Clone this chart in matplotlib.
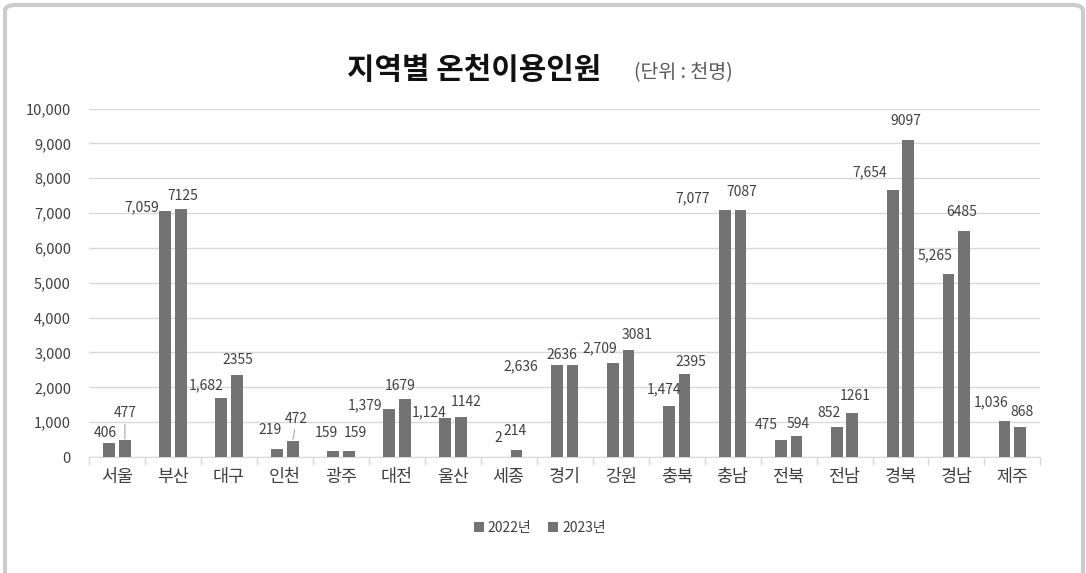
import numpy as np
import matplotlib.pyplot as plt
from matplotlib.patches import FancyBboxPatch

plt.rcParams['font.family'] = ['Noto Sans CJK KR', 'DejaVu Sans']

# data (단위: 천명)
regions = ['서울', '부산', '대구', '인천', '광주', '대전', '울산', '세종', '경기',
           '강원', '충북', '충남', '전북', '전남', '경북', '경남', '제주']
visitors_2022 = [406, 7059, 1682, 219, 159, 1379, 1124, 2, 2636,
                 2709, 1474, 7077, 475, 852, 7654, 5265, 1036]
visitors_2023 = [477, 7125, 2355, 472, 159, 1679, 1142, 214, 2636,
                 3081, 2395, 7087, 594, 1261, 9097, 6485, 868]
labels_2022 = ['406', '7,059', '1,682', '219', '159', '1,379', '1,124', '2', '2,636',
               '2,709', '1,474', '7,077', '475', '852', '7,654', '5,265', '1,036']
labels_2023 = ['477', '7125', '2355', '472', '159', '1679', '1142', '214', '2636',
               '3081', '2395', '7087', '594', '1261', '9097', '6485', '868']

# hand placed label offsets (pixels from bar top), like the original sheet
off_2022 = [(-4, 10), (-23, 4), (-15, 13), (-7, 19), (-7, 18), (-24, 4), (-16, 6), (-3, 19), (-36, -1),
            (-13, 14), (-5, 16), (-32, 12), (-14, 15), (-8, 14), (-23, 18), (-14, 18), (-13, 19)]
off_2023 = [(0, 27), (2, 13), (1, 15), (4, 22), (7, 18), (-4, 13), (6, 15), (-2, 19), (-11, 10),
            (9, 15), (6, 12), (1, 18), (2, 12), (3, 17), (-3, 19), (-3, 19), (2, 15)]
leader_2023 = ['서울', '인천']

bar_color = '#737373'
text_color = '#404040'
grid_color = '#d9d9d9'

fig = plt.figure(figsize=(10.86, 5.73), dpi=100)
ax = fig.add_axes([0.082, 0.2024, 0.876, 0.6082])

x = np.arange(len(regions))
w = 0.21
off = 0.14
b1 = ax.bar(x - off, visitors_2022, w, color=bar_color, label='2022년', zorder=3)
b2 = ax.bar(x + off, visitors_2023, w, color=bar_color, label='2023년', zorder=3)

ax.set_xlim(-0.5, len(regions) - 0.5)
ax.set_ylim(0, 10000)
ax.set_yticks(range(0, 10001, 1000))
ax.set_yticklabels([f'{v:,}' for v in range(0, 10001, 1000)])
ax.yaxis.grid(True, color=grid_color, linewidth=1, zorder=0)
ax.tick_params(axis='y', length=0, labelsize=10.5, labelcolor=text_color, pad=13)

ax.set_xticks(x)
ax.set_xticklabels(regions)
ax.tick_params(axis='x', length=0, labelsize=12.5, labelcolor=text_color, pad=8)
ax.set_xticks(np.arange(-0.5, len(regions), 1), minor=True)
ax.tick_params(axis='x', which='minor', length=6, color=grid_color, width=1)

for s in ['top', 'right', 'left']:
    ax.spines[s].set_visible(False)
ax.spines['bottom'].set_color(grid_color)

# value labels
for i in range(len(regions)):
    ax.annotate(labels_2022[i], (x[i] - off, visitors_2022[i]),
                xytext=off_2022[i], textcoords='offset pixels', ha='center', va='center',
                fontsize=10, color=text_color)
    arrow = None
    if regions[i] in leader_2023:
        arrow = dict(arrowstyle='-', color='#a6a6a6', lw=0.8, shrinkA=1, shrinkB=1)
    ax.annotate(labels_2023[i], (x[i] + off, visitors_2023[i]),
                xytext=off_2023[i], textcoords='offset pixels', ha='center', va='center',
                fontsize=10, color=text_color, arrowprops=arrow)

# title
fig.text(0.437, 0.878, '지역별 온천이용인원', fontsize=21.5, fontweight='bold',
         color='#111111', ha='center', va='center')
fig.text(0.629, 0.873, '(단위 : 천명)', fontsize=14, color='#595959',
         ha='center', va='center')

leg = fig.legend(handles=[b1, b2], loc='center', bbox_to_anchor=(0.497, 0.079),
                 ncol=2, frameon=False, fontsize=10, handlelength=0.7, handleheight=0.7,
                 columnspacing=1.2, handletextpad=0.3)
for t in leg.get_texts():
    t.set_color(text_color)

# outer frame
frame = FancyBboxPatch((5 / 1086, -0.05), 1078 / 1086, 1.0 + 0.05 - 5 / 573,
                       boxstyle='round,pad=0,rounding_size=0.01',
                       transform=fig.transFigure, fill=False,
                       edgecolor='#cccccc', linewidth=3)
fig.patches.append(frame)

fig.savefig('out.png', dpi=100)
